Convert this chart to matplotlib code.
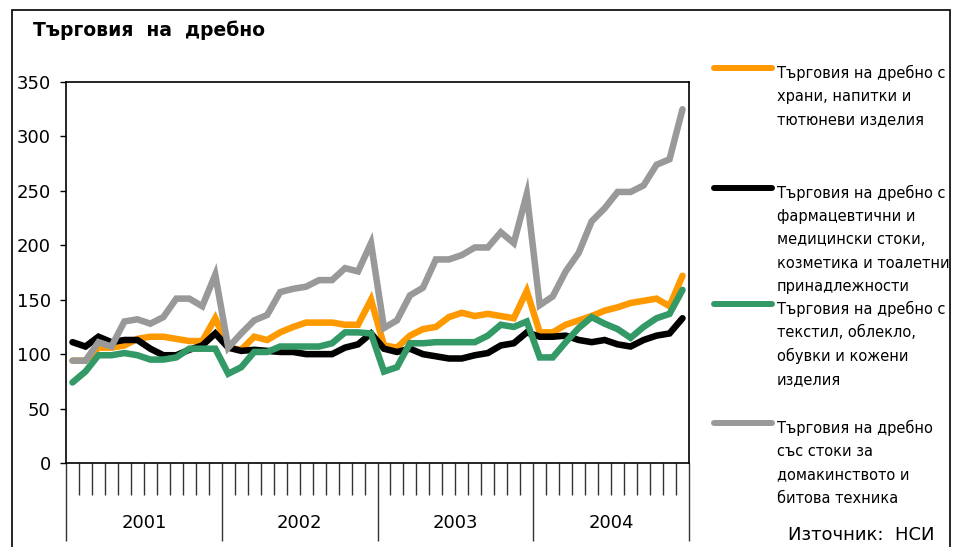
import matplotlib
matplotlib.use("Agg")
import matplotlib.pyplot as plt
from matplotlib.lines import Line2D
from matplotlib.patches import Rectangle
from matplotlib.transforms import blended_transform_factory
import numpy as np

years = ["2001", "2002", "2003", "2004"]
months_per_year = 12

food = [94, 94, 106, 106, 108, 114, 116, 116, 114, 112, 112, 133,
        106, 104, 116, 113, 120, 125, 129, 129, 129, 127, 127, 150,
        108, 106, 117, 123, 125, 134, 138, 135, 137, 135, 133, 158,
        120, 120, 127, 131, 135, 140, 143, 147, 149, 151, 144, 172]
pharma = [111, 107, 116, 111, 113, 113, 105, 99, 99, 104, 108, 119,
          106, 103, 104, 103, 102, 102, 100, 100, 100, 106, 109, 119,
          105, 102, 105, 100, 98, 96, 96, 99, 101, 108, 110, 120,
          116, 116, 117, 113, 111, 113, 109, 107, 113, 117, 119, 133]
textile = [74, 84, 99, 99, 101, 99, 95, 95, 97, 105, 105, 105,
           82, 88, 102, 102, 107, 107, 107, 107, 110, 120, 120, 119,
           84, 88, 110, 110, 111, 111, 111, 111, 117, 127, 125, 130,
           97, 97, 111, 124, 134, 128, 123, 115, 125, 133, 137, 159]
household = [94, 94, 111, 107, 130, 132, 128, 134, 151, 151, 144, 173,
             106, 119, 131, 136, 157, 160, 162, 168, 168, 179, 176, 202,
             124, 131, 154, 161, 187, 187, 191, 198, 198, 212, 202, 247,
             145, 153, 176, 193, 222, 234, 249, 249, 255, 274, 279, 325]

labels = [
    ["Търговия на дребно с", "храни, напитки и", "тютюневи изделия"],
    ["Търговия на дребно с", "фармацевтични и", "медицински стоки,",
     "козметика и тоалетни", "принадлежности"],
    ["Търговия на дребно с", "текстил, облекло,", "обувки и кожени", "изделия"],
    ["Търговия на дребно", "със стоки за", "домакинството и", "битова техника"],
]
colors = ["#FF9900", "#000000", "#339966", "#999999"]
series = [food, pharma, textile, household]

W, H = 958, 547
fig = plt.figure(figsize=(W / 100, H / 100), dpi=100)
plt.rcParams['font.family'] = ['DejaVu Sans']

def fx(x):
    return x / W

def fy(y):
    return 1 - y / H

# outer frame
fig.patches.append(Rectangle((fx(12), fy(560)), fx(950) - fx(12), fy(10) - fy(560),
                             transform=fig.transFigure, fill=False,
                             edgecolor="black", linewidth=1.2))

ax = fig.add_axes([fx(66), fy(463), fx(689) - fx(66), fy(82) - fy(463)])
n = len(food)
x = np.arange(n) + 0.5
lw = 4.7
for s, c in zip(series, colors):
    ax.plot(x, s, color=c, linewidth=lw, solid_joinstyle="miter",
            solid_capstyle="round", clip_on=False)

ax.set_xlim(0, n)
ax.set_ylim(0, 350)
ax.set_yticks(range(0, 351, 50))
ax.tick_params(axis="y", direction="out", length=4, width=1, labelsize=13, pad=7)
for sp in ax.spines.values():
    sp.set_color("black")
    sp.set_linewidth(1.2)

# x ticks: month boundaries (minor) and year boundaries (major)
ax.set_xticks(np.arange(0, n + 1, months_per_year))
ax.set_xticklabels([])
ax.set_xticks(np.arange(0, n + 1), minor=True)
ax.tick_params(axis="x", which="major", direction="out", length=56, width=1, color="#333333")
ax.tick_params(axis="x", which="minor", direction="out", length=23, width=1, color="#333333")

trans = blended_transform_factory(ax.transData, fig.transFigure)
for i, yr in enumerate(years):
    ax.text(i * months_per_year + months_per_year / 2, fy(523), yr, transform=trans,
            ha="center", va="center", fontsize=13)

# title
fig.text(fx(33), fy(30), "Търговия  на  дребно", fontsize=13.5, fontweight="bold",
         ha="left", va="center")

# legend
sample_y = [68, 188, 304, 423]
line_gap = 23.5
for lab, c, sy in zip(labels, colors, sample_y):
    fig.add_artist(Line2D([fx(714), fx(772)], [fy(sy), fy(sy)], color=c,
                          linewidth=4.3, solid_capstyle="round",
                          transform=fig.transFigure))
    for k, t in enumerate(lab):
        fig.text(fx(777), fy(sy + 5 + k * line_gap), t, fontsize=10.5,
                 ha="left", va="center")

fig.text(fx(935), fy(535), "Източник:  НСИ", fontsize=13, ha="right", va="center")

fig.savefig("out.png", dpi=100)
